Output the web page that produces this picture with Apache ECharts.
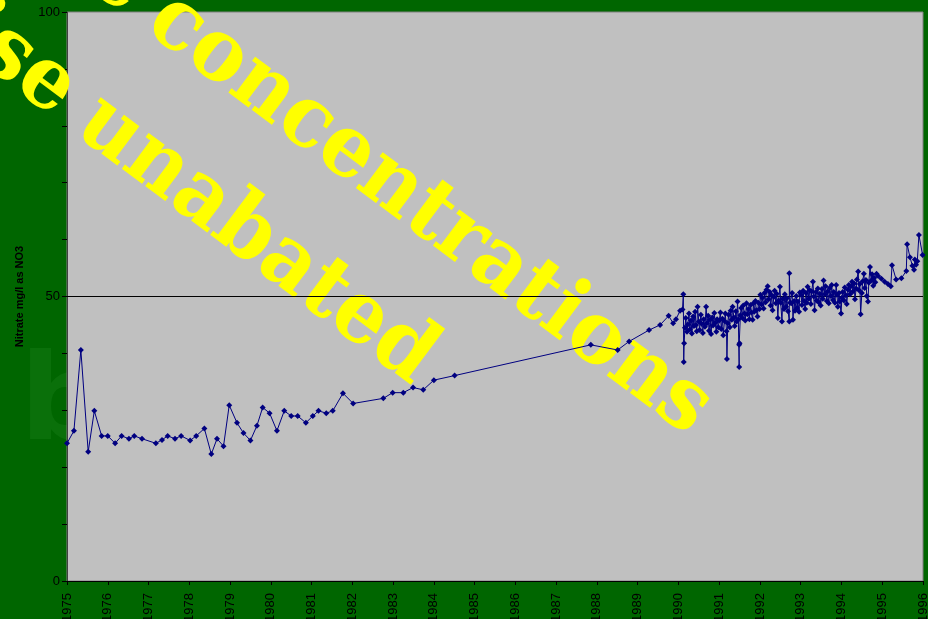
<!DOCTYPE html>
<html>
<head>
<meta charset="utf-8">
<script src="https://cdn.jsdelivr.net/npm/echarts@6/dist/echarts.min.js"></script>
<style>
html,body{margin:0;padding:0;background:#006600;}
#chart{width:928px;height:619px;}
</style>
</head>
<body>
<div id="chart"></div>
<script>
// Sample dates (decimal years) and nitrate values (mg/l as NO3)
const years = [
1975.00,1975.17,1975.34,1975.52,1975.67,1975.85,1976.00,1976.18,1976.34,1976.52,1976.65,1976.84,
1977.18,1977.33,1977.47,1977.65,1977.80,1978.02,1978.17,1978.37,1978.54,1978.68,1978.84,1978.98,
1979.17,1979.33,1979.50,1979.66,1979.80,1979.97,1980.15,1980.33,1980.50,1980.66,1980.86,1981.03,
1981.17,1981.36,1981.52,1981.77,1982.02,1982.76,1982.99,1983.25,1983.49,1983.74,1984.00,1984.51,
1987.85,1988.51,1988.79,1989.28,1989.55,1989.76,1989.87,1989.94,1990.04,1990.10,1990.12,1990.13,1990.14,
1990.16,1990.18,1990.21,1990.23,1990.26,1990.28,1990.31,1990.33,1990.36,1990.38,1990.41,1990.43,
1990.45,1990.47,1990.50,1990.52,1990.55,1990.57,1990.60,1990.62,1990.65,1990.68,1990.70,1990.73,
1990.75,1990.78,1990.80,1990.83,1990.85,1990.88,1990.90,1990.93,1990.95,1990.98,
1991.00,1991.03,1991.05,1991.08,1991.10,1991.13,1991.15,1991.18,1991.19,1991.21,1991.23,1991.26,
1991.28,1991.31,1991.33,1991.36,1991.38,1991.41,1991.43,1991.45,1991.47,1991.49,1991.49,1991.50,
1991.52,1991.54,1991.57,1991.59,1991.62,1991.64,1991.67,1991.69,1991.72,1991.74,1991.77,1991.79,
1991.82,1991.84,1991.86,1991.89,1991.91,1991.94,1991.96,1991.99,
1992.01,1992.04,1992.06,1992.09,1992.11,1992.14,1992.16,1992.19,1992.21,1992.24,1992.26,1992.29,
1992.31,1992.34,1992.36,1992.39,1992.41,1992.44,1992.46,1992.49,1992.51,1992.54,1992.56,1992.59,
1992.61,1992.64,1992.66,1992.69,1992.72,1992.72,1992.74,
1992.77,1992.79,1992.81,1992.84,1992.86,1992.89,1992.91,1992.93,1992.96,1992.98,1993.01,1993.03,
1993.06,1993.08,1993.11,1993.13,1993.15,1993.17,1993.20,1993.22,1993.25,1993.27,1993.30,1993.32,
1993.34,1993.37,1993.39,1993.42,1993.44,1993.47,1993.49,
1993.52,1993.54,1993.56,1993.59,1993.61,1993.64,1993.66,1993.69,1993.71,1993.74,1993.76,1993.79,
1993.81,1993.84,1993.87,1993.89,1993.91,1993.94,1993.96,1993.99,
1994.01,1994.03,1994.06,1994.08,1994.11,1994.13,1994.16,1994.18,1994.21,1994.23,1994.26,1994.28,
1994.31,1994.33,1994.36,1994.38,1994.41,1994.43,1994.45,1994.47,1994.50,1994.52,1994.55,1994.57,
1994.60,1994.62,1994.65,1994.67,1994.70,1994.73,1994.75,1994.78,1994.80,1994.83,1994.86,
1994.90,1994.98,1995.06,1995.14,1995.21,1995.24,1995.34,1995.47,1995.59,1995.61,1995.68,1995.74,
1995.78,1995.80,1995.83,1995.86,1995.90,1995.99
];
const nitrate = [
24.2,26.4,40.6,22.7,29.9,25.5,25.5,24.2,25.5,25.0,25.5,25.0,
24.2,24.8,25.5,25.0,25.5,24.7,25.5,26.8,22.3,25.0,23.7,30.9,
27.8,26.0,24.7,27.3,30.5,29.5,26.4,29.9,29.0,29.0,27.8,29.0,
29.9,29.5,29.9,33.0,31.2,32.1,33.1,33.1,34.0,33.6,35.3,36.1,
41.5,40.6,42.1,44.1,45.0,46.6,45.3,46.0,47.5,47.7,50.4,38.5,41.8,
44.5,46.2,43.8,45.1,47.0,44.2,45.8,43.5,46.5,44.8,47.3,45.0,
43.9,48.2,45.6,44.1,46.8,45.2,43.6,46.0,44.7,48.2,45.3,46.6,
44.0,45.9,43.4,46.3,44.9,47.1,45.4,43.8,46.0,44.6,
45.8,47.2,44.3,46.1,43.2,45.7,47.0,43.9,39.0,45.3,46.8,44.6,
47.5,45.9,48.2,46.3,44.8,47.4,45.6,49.1,46.0,37.6,41.5,41.8,
46.7,48.0,46.2,48.4,47.0,45.8,48.8,46.9,47.8,46.0,48.5,47.2,
45.9,48.8,47.3,49.2,47.6,46.5,48.9,47.8,
50.3,48.6,49.8,47.9,50.6,49.0,51.2,51.8,49.5,50.8,48.4,50.2,
47.6,49.9,51.0,48.8,50.5,46.2,49.3,51.7,48.9,45.6,49.6,47.8,
50.4,48.2,49.7,47.4,45.6,54.1,48.9,
48.8,50.6,45.9,49.2,47.5,50.1,48.0,49.1,47.3,50.7,50.3,48.5,
51.0,49.2,47.8,50.6,48.9,51.7,49.6,51.1,48.7,50.9,52.6,50.0,
47.6,50.8,49.3,51.4,49.0,50.5,48.4,
51.3,49.6,52.8,50.4,51.8,49.2,50.9,48.8,51.5,50.1,52.0,49.4,
50.8,48.9,52.0,50.3,48.2,50.6,49.1,47.0,
49.8,50.8,49.3,51.6,50.2,48.7,51.2,52.0,50.4,51.8,52.6,50.9,
52.3,49.5,51.4,53.0,54.4,51.1,52.2,46.9,50.6,52.7,54.0,51.5,
52.9,50.1,49.1,52.4,55.2,52.8,53.9,51.9,53.3,52.5,54.0,
53.6,53.1,52.6,52.2,51.8,55.5,53.0,53.2,54.5,59.2,56.9,55.4,
54.7,56.5,55.6,56.2,60.8,57.3
];
const yLabelValues = [0, 50, 100];
const limitValue = 50;
const titleLine1 = ['Nitrate', 'concentrations'];
const titleLine2 = ['rise', 'unabated'];

const seriesData = years.map((y, i) => [y, nitrate[i]]);

const chart = echarts.init(document.getElementById('chart'), null, {renderer: 'canvas'});
const deg = 36.8;
const ang = -deg * Math.PI / 180;
const dx = Math.cos(deg * Math.PI / 180), dy = Math.sin(deg * Math.PI / 180);
const titleFont = 'bold 86px "DejaVu Serif"';
const sx = 0.94;
function titleText(x, y, text, align) {
  return {
    type: 'text', z: 1, x: x, y: y, rotation: ang, scaleX: sx, scaleY: 1.0,
    style: {text: text, font: titleFont, fill: '#FFFF00',
      align: align, textAlign: align, verticalAlign: 'middle', textVerticalAlign: 'middle'}
  };
}
const l1 = [157, 11], l2 = [86, 114], gap = 24;

chart.setOption({
  backgroundColor: '#006600',
  animation: false,
  grid: {left: 67, right: 5, top: 12, bottom: 38, show: true, containLabel: false,
    outerBoundsMode: 'none',
    backgroundColor: '#C0C0C0', borderColor: '#808080', borderWidth: 1},
  graphic: {elements: [
    {type: 'text', z: -1, left: 20, top: 348,
      style: {text: 'b', font: 'bold 120px "DejaVu Sans"', fill: '#0a700a'}},
    titleText(l1[0], l1[1], titleLine1[1], 'left'),
    titleText(l1[0] - gap * dx, l1[1] - gap * dy, titleLine1[0], 'right'),
    titleText(l2[0], l2[1], titleLine2[1], 'left'),
    titleText(l2[0] - gap * dx, l2[1] - gap * dy, titleLine2[0], 'right')
  ]},
  xAxis: {
    type: 'value', min: 1975, max: 1996, interval: 1,
    axisLine: {show: true, lineStyle: {color: '#000', width: 1}},
    axisTick: {show: true, length: 4, lineStyle: {color: '#000'}},
    splitLine: {show: false},
    axisLabel: {rotate: 90, margin: 12, fontSize: 13, color: '#000',
      fontFamily: '"Liberation Sans", Arial, sans-serif', showMaxLabel: true, hideOverlap: false,
      formatter: v => String(v)}
  },
  yAxis: {
    type: 'value', min: 0, max: 100, interval: 10,
    name: 'Nitrate mg/l as NO3', nameLocation: 'middle', nameGap: 42,
    nameTextStyle: {fontSize: 11, fontWeight: 'bold', color: '#000',
      fontFamily: '"Liberation Sans", Arial, sans-serif'},
    axisLine: {show: true, lineStyle: {color: '#404040', width: 1}},
    axisTick: {show: true, length: 5, lineStyle: {color: '#000'}},
    splitLine: {show: false},
    axisLabel: {margin: 7, fontSize: 13, color: '#000',
      fontFamily: '"Liberation Sans", Arial, sans-serif',
      formatter: v => (yLabelValues.indexOf(v) >= 0 ? String(v) : '')}
  },
  series: [{
    type: 'line', data: seriesData, z: 5,
    symbol: 'diamond', symbolSize: 6, showSymbol: true,
    lineStyle: {color: '#000080', width: 1},
    itemStyle: {color: '#000080'},
    markLine: {
      silent: true, symbol: 'none', label: {show: false},
      lineStyle: {color: '#000', type: 'solid', width: 1},
      data: [{yAxis: limitValue}]
    }
  }]
});
</script>
</body>
</html>
